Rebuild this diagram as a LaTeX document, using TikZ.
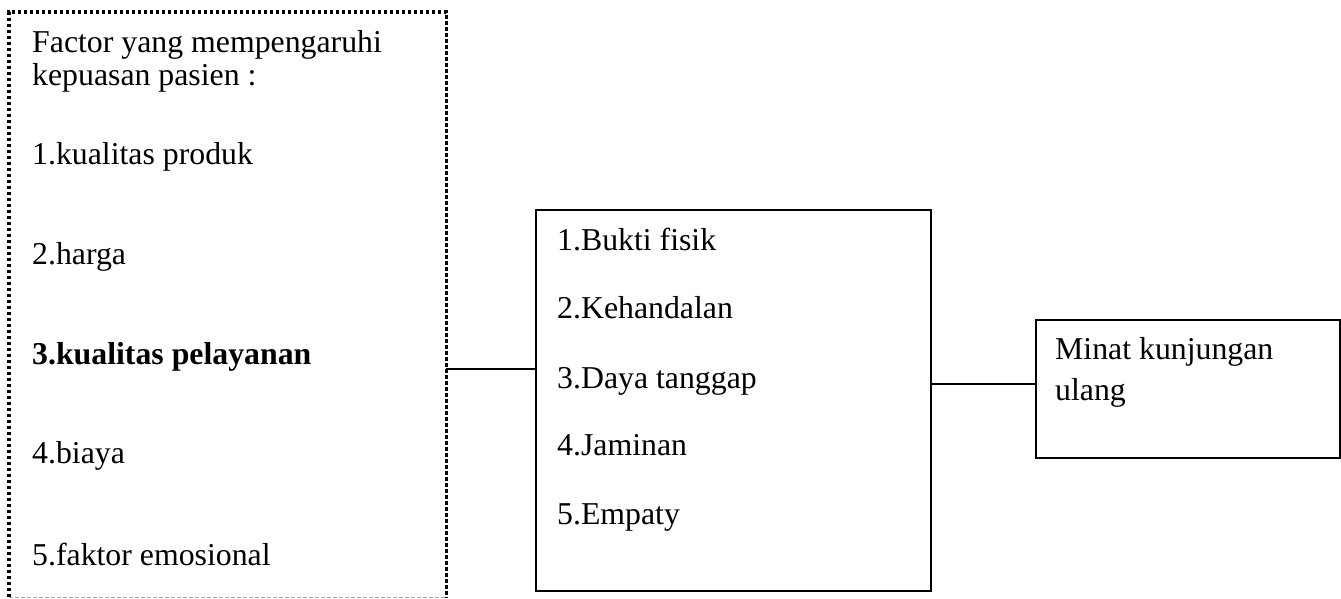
\documentclass[tikz,border=0pt]{standalone}
\usepackage{fontspec}
\setmainfont{Liberation Serif}
\begin{document}
\begin{tikzpicture}[x=1pt,y=-1pt,
  box/.style={draw=black, line width=2pt, minimum width=#1, anchor=north west, inner sep=0pt},
  blank/.style={anchor=north west, inner sep=0pt},
  dotbrd/.style={line width=3.6pt, dash pattern=on 3.6pt off 2.4pt},
  graydash/.style={draw=gray!70, line width=1pt, dash pattern=on 4pt off 2pt},
  conn/.style={line width=1.6pt},
  txt/.style={anchor=base west, inner sep=0pt, font=\fontsize{31.8}{36}\selectfont}]
\useasboundingbox (0,0) rectangle (1341,598);
% left dotted box
\node[blank, minimum width=437pt, minimum height=585pt] (L) at (9,12) {};
\draw[dotbrd] (L.south west) -- (L.north west) -- (L.north east) -- (L.south east);
\draw[graydash] ([yshift=-0.5pt]L.south west) -- ([yshift=-0.5pt]L.south east);
\node[txt] (l1) at (32,52) {Factor yang mempengaruhi};
\node[txt] (l2) at (32,85) {kepuasan pasien :};
\node[txt] (l3) at (32,164) {1.kualitas produk};
\node[txt] (l4) at (32,264) {2.harga};
\node[txt] (l5) at (32,364) {\bfseries 3.kualitas pelayanan};
\node[txt] (l6) at (32,463) {4.biaya};
\node[txt] (l7) at (32,565) {5.faktor emosional};
% middle box
\node[box=395pt, minimum height=381pt] (M) at (535,209) {};
\node[txt] (m1) at (557,250) {1.Bukti fisik};
\node[txt] (m2) at (557,318) {2.Kehandalan};
\node[txt] (m3) at (557,388) {3.Daya tanggap};
\node[txt] (m4) at (557,455) {4.Jaminan};
\node[txt] (m5) at (557,524) {5.Empaty};
% right box
\node[box=304pt, minimum height=138pt] (R) at (1035,319) {};
\node[txt] (r1) at (1055,359) {Minat kunjungan};
\node[txt] (r2) at (1055,400) {ulang};
% connectors
\draw[conn] (L.east |- 0,369) -- (M.west |- 0,369);
\draw[conn] (M.east |- 0,384) -- (R.west |- 0,384);
\end{tikzpicture}
\end{document}
